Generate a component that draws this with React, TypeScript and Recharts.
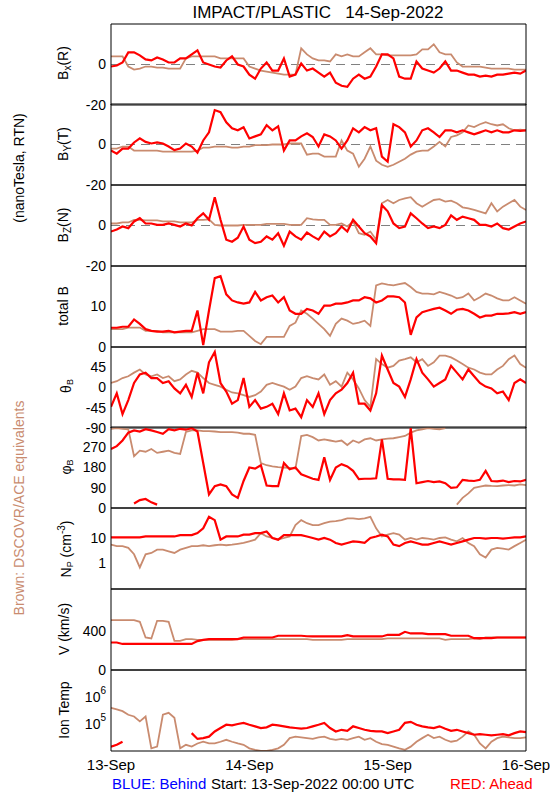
import React from "react";
import { ComposedChart, Line, XAxis, YAxis, ReferenceLine } from "recharts";

// hours since 13-Sep-2022 00:00 UTC
const HOURS = [
  0, 1, 2, 3, 4, 5, 6, 7, 8, 9, 10, 11, 12, 13, 14, 15, 16, 17, 18, 19, 20, 21, 22, 23, 24,
  25, 26, 27, 28, 29, 30, 31, 32, 33, 34, 35, 36, 37, 38, 39, 40, 41, 42, 43, 44, 45, 46, 47, 48,
  49, 50, 51, 52, 53, 54, 55, 56, 57, 58, 59, 60, 61, 62, 63, 64, 65, 66, 67, 68, 69, 70, 71, 72,
];
const DAY_TICKS = [0, 24, 48, 72];
const DAY_LABELS = ["13-Sep", "14-Sep", "15-Sep", "16-Sep"];
const X_TICKS = [0, 6, 12, 18, 24, 30, 36, 42, 48, 54, 60, 66, 72];

// STEREO Ahead (red) vs DSCOVR/ACE (brown)
const bxRed = [
  -1, -0.5, 1, 6, 6, 4.5, 2.5, 2, 3.5, 2.5, 1, 1, 3, 3, 5, 7, 1, 0, -1, -1.5, 2, 4, 0, -1, -5,
  -7, -2, 1, -3, -3, 3, -6, -5, 0.5, -3, -2, -4, -6, -4, -9, -10.5, -11, -7, -5, -7, -6, -1, 5, 5,
  3, -6, -7, -7, 1.5, -2, -3, -4, -2, 1.5, -3, -3, -4, -5, -5, -6, -5.5, -6, -5, -5, -4.5, -4, -4.5, -3,
];
const bxBrown = [
  4, 4, 4, -1, -2.5, -2, -1, -1, -1.5, -1.5, -2, -2, -2, 3, 4, 4, 4, 4, 4, 3, 3, 3, 3, 3, -1,
  -2, -3, -3.5, -4, -4.5, -5, -5, -5, 8, 5, 3, 2, 2, 1.5, 5, 4, 5, 4, 4, 6, 8, 5, 5, 4.5,
  4.5, 4.5, 4.5, 4.5, 5, 7.5, 7.5, 10, 6, 5, 5, 1, -1, -1, -1, -1, -1.5, -2, -2, -2, -2, -2.5, -2.5, -2.5,
];
const byRed = [
  -3, -4.5, -2, -2, 1, 3, 1.3, 0.5, 1, 0.5, -1, -2.8, -2, 0.5, -1, -4, 2, 6, 17, 16, 11, 8, 7, 8.5, 3,
  4, 5, 9.5, 7, 9, -3, 2, 2, 4, 5.5, 3.7, -1, 5, 4, 2, -2, 2, 8, 6, 8.6, 7, 8, -6, -8.5,
  10, 8.6, 6, -1, 2, 7, 8, 6, 3.7, 7, 7, 6, 7, 6, 5, 6, 7, 6, 7, 6, 6, 7, 6.7, 7,
];
const byBrown = [
  -2, -2, -1, -1, -3, -3, -3, -3, -3, -3.5, -3.5, -3.5, -3.5, -3.5, -3.5, -3, -1.5, -1.5, -1, -1, -1, -1.5, -1.5, -1, -1,
  -0.3, -0.3, -0.3, 0, 0, 0, 0.5, 0.5, 0.5, -5, -4.5, -4.5, -6, -6, -6, 2, -3, -4.5, -11, -7, -1, -8, -10, -11,
  -10, -8.5, -7, -5, -3.5, -3, -3, -1, 1.3, -1, 3.7, 4.5, 6, 9.4, 8.6, 10, 11, 10, 9.4, 10, 8, 7, 7.3, 7,
];
const bzRed = [
  -3, -2, -0.5, -1.3, 2, 3.6, 1, 1, 0.3, 0.3, 1, 0.3, -0.5, 1, 0, 3.6, 6, 2.8, 14, 2.8, -7, -8, -6, -0.5, -7,
  -8.7, -8, -5.4, -7, -3.8, -10, -3, -5.4, -7, -3.5, -5.4, -7, -3, -5.4, -3.8, -0.5, -3, 2.8, -0.5, -3.8, -5.4, -8.7, 10, 7,
  1, -1.3, -0.5, 6, 3.6, 1, -1.3, -0.5, -1.3, 0.3, 5, 2.8, 4.4, 3.6, 2.8, 0.3, 0.3, -0.5, 1, -1.3, -2, -0.5, 1, 2,
];
const bzBrown = [
  1, 1, 1.5, 1.5, 2.8, 2.8, 2.5, 2.5, 2.5, 2, 2, 2, 1.5, 1.5, 1.5, 2.8, 2.8, 3, 0.3, 0, 0, 0, 0, 0.3, 0.3,
  0.3, 0.3, 0.8, 0.8, 0.8, 0.8, 0.3, 0.3, 0.3, 3.6, 3, 2.8, 2.8, 0.3, 0.3, 1, -0.5, 2, -3.8, -4.6, -3, -7, 11, 12.6,
  11, 12.6, 13.4, 14, 11, 9.3, 11, 12.6, 13, 11.8, 12.3, 11, 9, 8.5, 7.7, 6.9, 6, 11, 6.9, 9.3, 11, 12.6, 9.3, 7.7,
];
const btRed = [
  4.75, 4.75, 5, 5, 6.8, 5.7, 4.4, 4, 3.8, 3.8, 4, 3.6, 3.8, 4, 4, 9, 0.5, 9, 17, 17.5, 13, 11.5, 11, 10.7, 11,
  13.6, 11.5, 12.3, 12.7, 11, 12.3, 9, 8.2, 8.2, 9.4, 9, 8.2, 10.2, 10.2, 10.7, 10.7, 11, 11.5, 11.5, 12.3, 12, 11, 11.5, 12.5,
  12.5, 12.3, 11, 3, 7.3, 8.6, 9, 9.4, 9.7, 9, 8.2, 9.2, 9.4, 9, 8.2, 7.3, 7.75, 7.75, 8.2, 8.2, 8.3, 8.6, 8.2, 8.6,
];
const btBrown = [
  4.4, 4.4, 4.4, 4.8, 4.8, 4.8, 4, 4, 4, 3.6, 3.6, 3.6, 3.6, 3.6, 3.6, 4, 4.4, 4.4, 4.4, 3.8, 3.8, 3.8, 4, 4, 2.75,
  1.5, 0.7, 2.5, 2.5, 2.5, 2.5, 5.2, 6, 9, 8.2, 7, 5.7, 4.4, 2.75, 5.7, 7, 6.5, 5.7, 6, 6.5, 5.2, 15.2, 15.7, 15.4,
  15.2, 15.5, 15.8, 14.8, 13.6, 13.2, 13.2, 13, 13.6, 13.2, 12.7, 12, 12.3, 13.2, 11.5, 12.3, 13.2, 12.7, 12, 11.5, 11.5, 12.3, 11.5, 10.7,
];
const thetaRed = [
  -43, -13, -59, -28, 10, 29, 33, 21, 21, 10, 14, -2, -13, 6, -21, 33, -13, 56, 79, 10, -9, -36, -28, 21, -43,
  -28, -47, -43, -36, -59, -13, -51, -47, -66, -28, -43, -13, -59, -28, -13, -5, 10, 33, -36, -36, -51, -13, 71, 40,
  10, 2, -21, 18, 63, 33, 18, 2, 10, 18, 48, 33, 18, 40, 25, 10, 2, -2, -13, -9, -28, 10, 18, 10,
];
const thetaBrown = [
  10, 14, 21, 25, 33, 40, 29, 25, 29, 21, 25, 14, 18, 29, 37, 33, 21, 10, 6, 2, -5, -11, -13, -17, -21,
  -17, -9, 6, 10, 6, 2, -5, 2, 21, 25, 21, 18, 29, 6, 14, 2, 33, 18, -2, -28, -43, 63, 52, 44,
  48, 60, 63, 67, 56, 63, 48, 56, 71, 71, 67, 60, 52, 44, 40, 33, 29, 29, 40, 48, 63, 71, 52, 44,
];
const phiRed = [
  262, 275, 300, 335, 345, 340, 350, 345, 338, 330, 350, 345, 352, 348, 355, 340, 200, 60, 97, 105, 97, 60, 45, 120, 180,
  175, 190, 100, 97, 97, 200, 172, 180, 150, 140, 130, 125, 225, 125, 180, 195, 185, 165, 128, 130, 130, 132, 305, 130,
  127, 127, 125, 355, 110, 115, 120, 115, 118, 110, 90, 92, 125, 122, 120, 125, 165, 120, 118, 122, 115, 120, 118, 125,
];
// red points that wrapped past 360 and show up near 0
const phiRedWrap = [
  null, null, null, null, 20, 35, 40, 25, 15, null, null, null, null, null, null, null, null, null, null, null, null, null, null, null, null,
  null, null, null, null, null, null, null, null, null, null, null, null, null, null, null, null, null, null, null, null, null, null, null, null,
  null, null, null, null, null, null, null, null, null, null, null, null, null, null, null, null, null, null, null, null, null, null, null, null,
];
const phiBrown = [
  352, 355, 352, 350, 230, 255, 250, 262, 245, 250, 255, 245, 240, 338, 345, 345, 342, 342, 340, 337, 337, 337, 335, 330, 330,
  325, 200, 190, 185, 182, 180, 178, 175, 320, 325, 315, 300, 305, 300, 295, 300, 280, 300, 290, 305, 310, 300, 305, 308,
  310, 315, 320, 335, 345, 350, 355, 352, 350, 355, null, 15, 45, 65, 90, 95, 100, 98, 97, 100, 102, 100, 105, 102,
];
const npRed = [
  10.6, 10.6, 10.6, 10.6, 10.6, 10.6, 11.5, 11.5, 11.5, 11.5, 11.5, 11.5, 13, 13, 13, 15.5, 24, 68, 50, 8.6, 11.5, 11.5, 11.5, 13.5, 13.5,
  15.5, 15.5, 18, 10, 8.6, 13, 13, 13, 13, 11.5, 10, 8.6, 10, 8.6, 6.4, 5.5, 6.4, 7.4, 7, 6.4, 10, 11.5, 13.5, 11.5,
  5.5, 4.8, 6.4, 7.4, 6.4, 5.5, 5.5, 6.4, 7.4, 6.4, 5.5, 6.4, 7.4, 8.6, 10, 10, 9.4, 10, 10, 9.4, 10, 10.6, 10.6, 11.5,
];
const npBrown = [
  5.5, 4.8, 4.8, 4.1, 2.3, 0.7, 2.3, 2.6, 3.5, 3.5, 3, 2.6, 3.5, 4.1, 4.8, 4.8, 5.2, 4.8, 5.2, 5.5, 5.2, 5.5, 5.9, 6.4, 7.4,
  8.6, 15.5, 11.5, 10, 8.6, 10, 11.5, 32, 50, 38, 32, 32, 38, 44, 46, 50, 59, 59, 55, 59, 68, 24, 11.5, 13.5,
  15.5, 13.5, 8.6, 10, 8.6, 10, 9.4, 8.6, 10, 10.6, 8.6, 7.4, 10, 6.4, 4.8, 2.3, 1.7, 3.5, 4.1, 3.8, 3.5, 4.8, 6.4, 8.6,
];
const vRed = [
  285, 285, 270, 270, 270, 270, 270, 270, 270, 270, 270, 270, 270, 270, 270, 300, 313, 320, 320, 320, 320, 320, 320, 337, 337,
  337, 337, 337, 337, 355, 355, 355, 355, 355, 350, 348, 348, 348, 348, 348, 348, 362, 348, 348, 348, 348, 348, 348, 365,
  365, 365, 396, 379, 379, 379, 372, 372, 372, 372, 355, 355, 355, 355, 330, 330, 330, 330, 337, 337, 337, 337, 337, 337,
];
const vBrown = [
  518, 518, 518, 518, 518, 500, 337, 327, 510, 510, 500, 302, 302, 320, 320, 313, 313, 313, 313, 313, 313, 313, 320, 320, 320,
  320, 320, 320, 320, 320, 320, 320, 320, 320, 320, 313, 313, 313, 313, 313, 313, 320, 320, 320, 320, 320, 320, 320, 327,
  327, 327, 327, 327, 327, 327, 327, 327, 327, 313, 320, 320, 320, 320, 327, 320, 337, 337, 337, 337, 337, 337, 337, 337,
];
const tempRed = [
  14500, 17000, 22000, null, null, null, null, null, null, null, null, null, null, null, 46000, 28000, 30000, 34000, 53000, 71000,
  94000, 89000, 100000, 110000, 94000, 82000, 71000, 75000, 94000, 89000, 82000, 75000, 71000, 67000, 71000, 82000, 94000, 110000,
  71000, 53000, 61000, 56000, 82000, 71000, 61000, 56000, 53000, 53000, 46000, 53000, 61000, 110000, 120000, 94000, 82000, 75000,
  71000, 82000, 67000, 56000, 61000, 53000, 46000, 40000, 42000, 40000, 38000, 40000, 42000, 38000, 46000, 53000, 50000,
];
const tempBrown = [
  400000, 350000, 300000, 220000, 190000, 125000, 190000, 12500, 14500, 220000, 260000, 170000, 12500, 17000, 14500, 19000, 22000,
  19000, 19000, 22000, 26000, 22000, 19000, 17000, 12500, 11000, 10000, 10000, 11000, 12500, 17000, 30000, 34000, 32000, 30000,
  28000, 32000, 34000, 28000, 26000, 28000, 26000, 30000, 34000, 26000, 30000, 22000, 18000, 17000, 14500, 12500, 11000, 14500,
  22000, 30000, 40000, 30000, 34000, 26000, 22000, 24000, 34000, 53000, 40000, 19000, 12500, 22000, 30000, 34000, 32000, 30000,
  30000, 32000,
];

const RED = "#ff0000";
const BROWN = "#c98b6f";
const FONT = "'Liberation Sans', Arial, sans-serif";

const PANEL_TOPS = [24, 104, 185, 266, 347, 427, 508, 589, 670];
const PANEL_H = 81;
const PAD = 10;
const LABEL_H = 30;

type Val = number | null;

interface PanelProps {
  top: number;
  red: Val[];
  brown: Val[];
  redWrap?: Val[];
  domain: [number, number];
  log?: boolean;
  labelTicks: number[];
  markTicks: number[];
  zero?: boolean;
  last?: boolean;
  powerLabels?: boolean;
}

const PowerTick = (props: any) => {
  const { x, y, payload } = props;
  const exp = Math.round(Math.log10(payload.value));
  return (
    <text x={x} y={y + 5} textAnchor="end" fontSize={14} fill="#000">
      10
      <tspan dy={-8} fontSize={10}>
        {exp}
      </tspan>
    </text>
  );
};

const Panel: React.FC<PanelProps> = ({
  top,
  red,
  brown,
  redWrap,
  domain,
  log,
  labelTicks,
  markTicks,
  zero,
  last,
  powerLabels,
}) => {
  const rows = HOURS.map((h, i) => ({
    h,
    red: red[i],
    brown: brown[i],
    wrap: redWrap ? redWrap[i] : null,
  }));
  const scale = log ? "log" : "linear";
  const height = PANEL_H + PAD * 2 + (last ? LABEL_H : 0);
  const yCommon = {
    type: "number" as const,
    domain,
    scale,
    allowDataOverflow: true,
    stroke: "#000",
  };
  const xCommon = {
    type: "number" as const,
    dataKey: "h",
    domain: [0, 72],
    allowDataOverflow: true,
    stroke: "#000",
  };

  return (
    <div style={{ position: "absolute", left: 0, top: top - PAD }}>
      <ComposedChart
        width={550}
        height={height}
        data={rows}
        margin={{ top: PAD, right: 24, bottom: PAD, left: 0 }}
      >
        <XAxis {...xCommon} xAxisId="b" orientation="bottom" mirror ticks={X_TICKS} tick={false} tickSize={5} />
        <XAxis {...xCommon} xAxisId="t" orientation="top" mirror ticks={X_TICKS} tick={false} tickSize={5} />
        {last && (
          <XAxis
            {...xCommon}
            xAxisId="lbl"
            orientation="bottom"
            height={LABEL_H}
            ticks={DAY_TICKS}
            interval={0}
            tickLine={false}
            axisLine={false}
            tickSize={0}
            tickMargin={8}
            tick={{ fontSize: 15, fill: "#000" }}
            tickFormatter={(v: number) => DAY_LABELS[DAY_TICKS.indexOf(v)] ?? ""}
          />
        )}
        <YAxis
          {...yCommon}
          yAxisId="l"
          width={111}
          ticks={labelTicks}
          interval={0}
          tickLine={false}
          tickSize={0}
          tickMargin={5}
          tick={powerLabels ? <PowerTick /> : { fontSize: 14, fill: "#000" }}
        />
        <YAxis {...yCommon} yAxisId="lm" mirror ticks={markTicks} interval={0} tick={false} tickSize={6} axisLine={false} />
        <YAxis {...yCommon} yAxisId="rm" orientation="right" mirror ticks={markTicks} interval={0} tick={false} tickSize={6} />
        {zero && (
          <ReferenceLine xAxisId="b" yAxisId="l" y={0} stroke="#808080" strokeDasharray="9 6" strokeWidth={1.2} />
        )}
        <Line
          xAxisId="b"
          yAxisId="l"
          dataKey="brown"
          stroke={BROWN}
          strokeWidth={1.8}
          dot={false}
          isAnimationActive={false}
        />
        <Line
          xAxisId="b"
          yAxisId="l"
          dataKey="red"
          stroke={RED}
          strokeWidth={2.2}
          dot={false}
          isAnimationActive={false}
        />
        {redWrap && (
          <Line
            xAxisId="b"
            yAxisId="l"
            dataKey="wrap"
            stroke={RED}
            strokeWidth={2.2}
            dot={false}
            isAnimationActive={false}
          />
        )}
      </ComposedChart>
    </div>
  );
};

const SideLabel = ({ x, y, children, color = "#000" }: any) => (
  <text
    transform={`translate(${x},${y}) rotate(-90)`}
    textAnchor="middle"
    dominantBaseline="central"
    fontSize={14}
    fill={color}
  >
    {children}
  </text>
);

const App: React.FC = () => {
  const npTicks = [
    0.2, 0.3, 0.4, 0.5, 0.6, 0.7, 0.8, 0.9, 1, 2, 3, 4, 5, 6, 7, 8, 9, 10, 20, 30, 40, 50, 60, 70, 80, 90, 100,
  ];
  return (
    <div
      style={{
        position: "absolute",
        left: 0,
        top: 0,
        width: 550,
        height: 800,
        background: "#fff",
        fontFamily: FONT,
      }}
    >
      <Panel top={PANEL_TOPS[0]} red={bxRed} brown={bxBrown} domain={[-20, 20]} labelTicks={[-20, 0]} markTicks={[-10, 0, 10]} zero />
      <Panel top={PANEL_TOPS[1]} red={byRed} brown={byBrown} domain={[-20, 20]} labelTicks={[-20, 0]} markTicks={[-10, 0, 10]} zero />
      <Panel top={PANEL_TOPS[2]} red={bzRed} brown={bzBrown} domain={[-20, 20]} labelTicks={[-20, 0]} markTicks={[-10, 0, 10]} zero />
      <Panel top={PANEL_TOPS[3]} red={btRed} brown={btBrown} domain={[0, 20]} labelTicks={[0, 10]} markTicks={[5, 10, 15]} />
      <Panel top={PANEL_TOPS[4]} red={thetaRed} brown={thetaBrown} domain={[-90, 90]} labelTicks={[-90, -45, 0, 45]} markTicks={[-45, 0, 45]} />
      <Panel top={PANEL_TOPS[5]} red={phiRed} brown={phiBrown} redWrap={phiRedWrap} domain={[0, 360]} labelTicks={[0, 90, 180, 270]} markTicks={[90, 180, 270]} />
      <Panel top={PANEL_TOPS[6]} red={npRed} brown={npBrown} domain={[0.1, 150]} log labelTicks={[1, 10]} markTicks={npTicks} />
      <Panel top={PANEL_TOPS[7]} red={vRed} brown={vBrown} domain={[0, 840]} labelTicks={[0, 400]} markTicks={[80, 160, 240, 320, 400, 480, 560, 640, 720, 800]} />
      <Panel top={PANEL_TOPS[8]} red={tempRed} brown={tempBrown} domain={[1e4, 1e7]} log labelTicks={[1e5, 1e6]} markTicks={[1e5, 1e6]} last powerLabels />

      <svg width={550} height={800} style={{ position: "absolute", left: 0, top: 0, pointerEvents: "none" }}>
        <text x={318} y={18} textAnchor="middle" fontSize={17} fill="#000">
          IMPACT/PLASTIC{"\u00a0\u00a0\u00a0"}14-Sep-2022
        </text>

        <SideLabel x={19} y={168}>(nanoTesla, RTN)</SideLabel>
        <SideLabel x={19} y={508} color={BROWN}>Brown: DSCOVR/ACE equivalents</SideLabel>

        <SideLabel x={63} y={63}>
          B<tspan dy={4} fontSize={10}>x</tspan><tspan dy={-4}>(R)</tspan>
        </SideLabel>
        <SideLabel x={63} y={144}>
          B<tspan dy={4} fontSize={10}>Y</tspan><tspan dy={-4}>(T)</tspan>
        </SideLabel>
        <SideLabel x={63} y={225}>
          B<tspan dy={4} fontSize={10}>Z</tspan><tspan dy={-4}>(N)</tspan>
        </SideLabel>
        <SideLabel x={63} y={306}>total B</SideLabel>
        <SideLabel x={66} y={386}>
          θ<tspan dy={4} fontSize={9}>B</tspan>
        </SideLabel>
        <SideLabel x={66} y={467}>
          φ<tspan dy={4} fontSize={9}>B</tspan>
        </SideLabel>
        <SideLabel x={66} y={549}>
          N<tspan dy={4} fontSize={9}>P</tspan><tspan dy={-4}>{"\u00a0"}(cm</tspan>
          <tspan dy={-5} fontSize={10}>-3</tspan><tspan dy={5}>)</tspan>
        </SideLabel>
        <SideLabel x={64} y={629}>V (km/s)</SideLabel>
        <SideLabel x={64} y={710}>Ion Temp</SideLabel>

        <text x={112} y={789} fontSize={15} fill="#0000ff">BLUE: Behind</text>
        <text x={211} y={789} fontSize={15} fill="#000">Start: 13-Sep-2022 00:00 UTC</text>
        <text x={450} y={789} fontSize={15} fill={RED}>RED: Ahead</text>
      </svg>
    </div>
  );
};

export default App;
